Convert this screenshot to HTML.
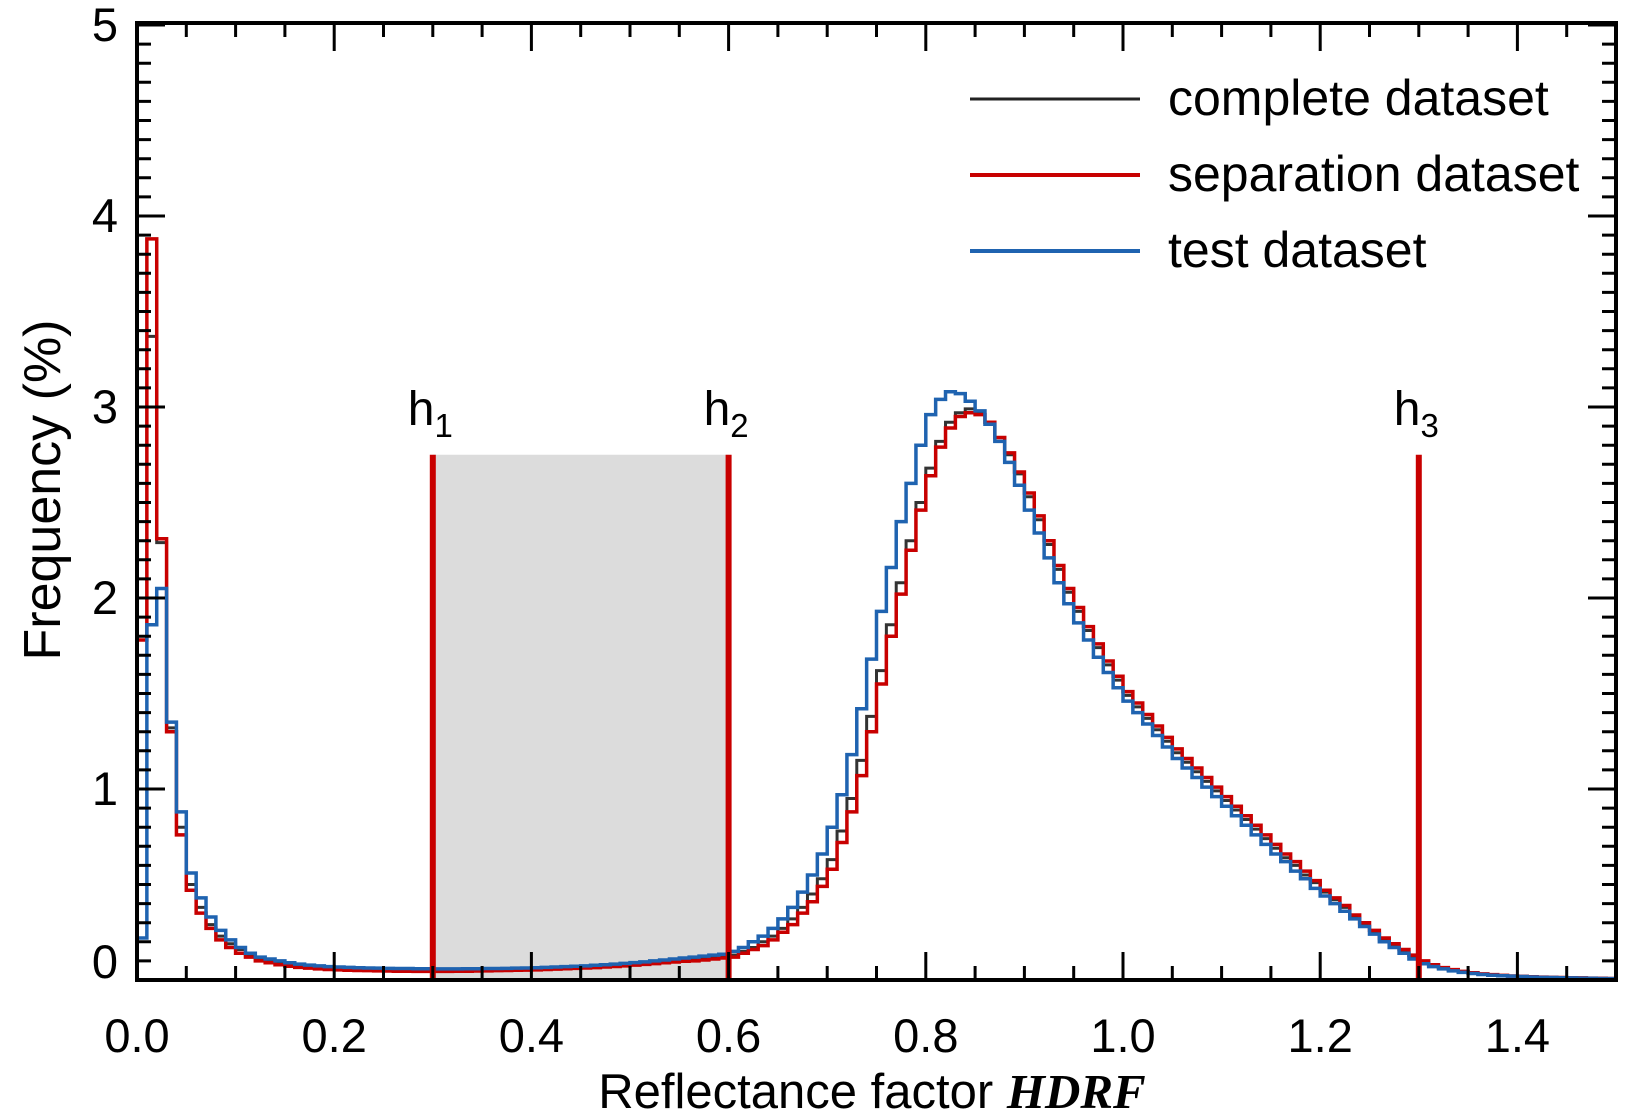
<!DOCTYPE html>
<html><head><meta charset="utf-8">
<style>
html,body{margin:0;padding:0;background:#fff;}
svg{display:block;font-family:"Liberation Sans",sans-serif;}
</style></head>
<body>
<svg id="chart" width="1625" height="1119" viewBox="0 0 1625 1119" xmlns="http://www.w3.org/2000/svg">
  <rect x="0" y="0" width="1625" height="1119" fill="#fff"/>
  <g id="shade"></g>
  <g id="series"></g>
  <g id="thresholds"></g>
  <g id="axes"></g>
  <g>
    <line x1="970" y1="99" x2="1140" y2="99" stroke="#222" stroke-width="3"/>
    <text x="1168" y="115" font-size="50">complete dataset</text>
    <line x1="970" y1="175" x2="1140" y2="175" stroke="#c80000" stroke-width="4"/>
    <text x="1168" y="191" font-size="50">separation dataset</text>
    <line x1="970" y1="251" x2="1140" y2="251" stroke="#1f63b0" stroke-width="4"/>
    <text x="1168" y="267" font-size="50">test dataset</text>
  </g>
  <text transform="translate(60,490) rotate(-90)" text-anchor="middle" font-size="52">Frequency (%)</text>
  <text x="872" y="1108" text-anchor="middle" font-size="49">Reflectance factor <tspan font-family="'Liberation Serif',serif" font-weight="bold" font-style="italic">HDRF</tspan></text>
</svg>
<script>
const categoriesStart = 0.00; // first bin left edge
const binWidth = 0.01;
const complete = [1.78,3.37,2.29,1.32,0.80,0.50,0.38,0.29,0.23,0.19,0.16,0.13,0.11,0.10,0.09,0.08,0.075,0.07,0.065,0.06,
0.06,0.058,0.056,0.055,0.054,0.053,0.052,0.052,0.051,0.051,0.05,0.05,0.051,0.051,0.052,0.053,0.054,0.055,0.056,0.057,
0.058,0.06,0.062,0.064,0.066,0.068,0.07,0.073,0.076,0.08,0.084,0.088,0.092,0.097,0.10,0.105,0.11,0.115,0.12,0.125,
0.13,0.15,0.17,0.20,0.23,0.27,0.32,0.38,0.45,0.53,0.63,0.78,0.95,1.15,1.38,1.62,1.86,2.08,2.30,2.50,
2.68,2.82,2.92,2.97,2.99,2.97,2.92,2.84,2.75,2.65,2.53,2.41,2.28,2.15,2.03,1.93,1.83,1.74,1.65,1.57,
1.49,1.43,1.37,1.31,1.25,1.19,1.14,1.09,1.04,0.99,0.94,0.89,0.84,0.79,0.74,0.69,0.64,0.60,0.55,0.51,
0.46,0.42,0.38,0.33,0.29,0.25,0.21,0.18,0.15,0.12,0.09,0.075,0.062,0.052,0.044,0.037,0.031,0.027,0.024,0.021,
0.019,0.017,0.015,0.014,0.013,0.012,0.011,0.01,0.009,0.008];
const separation = [1.78,3.88,2.31,1.30,0.76,0.47,0.35,0.27,0.21,0.17,0.14,0.12,0.10,0.09,0.08,0.072,0.066,0.062,0.058,0.055,
0.053,0.051,0.05,0.049,0.048,0.047,0.046,0.046,0.045,0.045,0.045,0.045,0.046,0.046,0.047,0.048,0.049,0.05,0.051,0.052,
0.053,0.055,0.057,0.059,0.061,0.063,0.065,0.068,0.071,0.074,0.078,0.082,0.086,0.09,0.094,0.098,0.10,0.105,0.11,0.115,
0.12,0.14,0.16,0.18,0.21,0.25,0.29,0.35,0.41,0.49,0.58,0.72,0.88,1.07,1.30,1.55,1.80,2.02,2.25,2.46,
2.64,2.79,2.89,2.95,2.97,2.96,2.92,2.84,2.76,2.66,2.55,2.43,2.30,2.17,2.05,1.95,1.85,1.76,1.67,1.59,
1.51,1.45,1.39,1.33,1.27,1.21,1.16,1.11,1.06,1.01,0.96,0.91,0.86,0.81,0.76,0.71,0.66,0.62,0.57,0.52,
0.47,0.43,0.39,0.34,0.30,0.26,0.22,0.19,0.16,0.13,0.10,0.08,0.065,0.054,0.045,0.038,0.032,0.028,0.024,0.021,
0.019,0.017,0.015,0.014,0.013,0.012,0.011,0.01,0.009,0.008];
const test = [0.22,1.86,2.05,1.35,0.88,0.56,0.43,0.33,0.26,0.21,0.17,0.14,0.12,0.11,0.10,0.09,0.083,0.078,0.074,0.07,
0.068,0.066,0.064,0.063,0.062,0.061,0.06,0.06,0.059,0.059,0.058,0.058,0.058,0.059,0.059,0.06,0.06,0.061,0.062,0.063,
0.064,0.066,0.068,0.07,0.072,0.074,0.077,0.08,0.083,0.087,0.091,0.095,0.10,0.105,0.11,0.115,0.12,0.125,0.13,0.135,
0.15,0.17,0.20,0.23,0.27,0.32,0.38,0.46,0.55,0.66,0.80,0.97,1.18,1.42,1.68,1.93,2.16,2.40,2.60,2.80,
2.96,3.04,3.08,3.07,3.03,2.98,2.91,2.82,2.71,2.59,2.46,2.34,2.21,2.08,1.97,1.87,1.78,1.69,1.61,1.53,
1.46,1.40,1.34,1.28,1.22,1.16,1.11,1.06,1.01,0.96,0.91,0.86,0.81,0.76,0.71,0.66,0.62,0.57,0.53,0.48,
0.44,0.40,0.36,0.32,0.28,0.24,0.20,0.17,0.14,0.11,0.085,0.07,0.058,0.048,0.04,0.034,0.029,0.025,0.022,0.02,
0.018,0.016,0.014,0.013,0.012,0.011,0.01,0.009,0.008,0.007];
const thresholdValues = [0.30, 0.60, 1.30];
const thresholdLabels = ["1", "2", "3"];
const shadeRange = [0.30, 0.60];
const shadeTop = 2.75;
const xTickValues = [0.0,0.2,0.4,0.6,0.8,1.0,1.2,1.4];
const xTickLabels = ["0.0","0.2","0.4","0.6","0.8","1.0","1.2","1.4"];
const yTickValues = [0,1,2,3,4,5];
const yTickLabels = ["0","1","2","3","4","5"];

const X0=137, X1=1616, Y0=980, Y1=25;
const xMin=0, xMax=1.5, yMin=0, yMax=5;
function xs(v){return X0+(v-xMin)/(xMax-xMin)*(X1-X0);}
function ys(v){return Y0-(v-yMin)/(yMax-yMin)*(Y0-Y1);}
const NS="http://www.w3.org/2000/svg";
function mk(tag,parent,attrs){const e=document.createElementNS(NS,tag);for(const k in attrs)e.setAttribute(k,attrs[k]);parent.appendChild(e);return e;}

const gShade=document.getElementById('shade');
const sh=mk('rect',gShade,{x:xs(shadeRange[0]),y:ys(shadeTop),width:xs(shadeRange[1])-xs(shadeRange[0]),height:ys(0)-ys(shadeTop),fill:'#dcdcdc'});



const gS=document.getElementById('series');
function stepPath(vals){
  let d='M'+xs(categoriesStart)+','+ys(vals[0]);
  for(let i=0;i<vals.length;i++){
    const xl=xs(categoriesStart+i*binWidth), xr=xs(categoriesStart+(i+1)*binWidth);
    d+=' L'+xl+','+ys(vals[i])+' L'+xr+','+ys(vals[i]);
  }
  return d;
}
const pc=mk('path',gS,{d:stepPath(complete),fill:'none',stroke:'#333',"stroke-width":3});


const pr=mk('path',gS,{d:stepPath(separation),fill:'none',stroke:'#c80000',"stroke-width":3.5});


const pb=mk('path',gS,{d:stepPath(test),fill:'none',stroke:'#1f63b0',"stroke-width":3.5});



const gT=document.getElementById('thresholds');
thresholdValues.forEach((v,i)=>{
  const l=mk('line',gT,{x1:xs(v),x2:xs(v),y1:ys(shadeTop),y2:ys(0),stroke:'#c80000',"stroke-width":6});
  
  
  const t=mk('text',gT,{x:xs(v)-25,y:425,"font-size":48});
  
  
  t.appendChild(document.createTextNode('h'));
  const s=mk('tspan',t,{"font-size":33,dy:12});
  s.textContent=thresholdLabels[i];
});

const gA=document.getElementById('axes');
const fr=mk('rect',gA,{x:X0,y:Y1-2,width:X1-X0,height:Y0-Y1+2,fill:'none',stroke:'#000',"stroke-width":4});


let d='';
for(let k=0;k<=30;k++){const v=k*0.05;const x=xs(v);const L=(k%4===0)?28:14;
  d+=`M${x},${Y0} v${-L} M${x},${Y1-2} v${L} `;}
for(let k=0;k<=50;k++){const v=k*0.1;const y=ys(v);const L=(k%10===0)?28:14;
  d+=`M${X0},${y} h${L} M${X1},${y} h${-L} `;}
const tk=mk('path',gA,{d:d,stroke:'#000',"stroke-width":3,fill:'none'});


xTickValues.forEach((v,i)=>{
  const t=mk('text',gA,{x:xs(v),y:1052,"text-anchor":"middle","font-size":47});
  
  
  t.textContent=xTickLabels[i];
});
yTickValues.forEach((v,i)=>{
  const yy = v===0 ? ys(v)-2 : ys(v)+16;
  const t=mk('text',gA,{x:118,y:yy,"text-anchor":"end","font-size":47});
  
  
  t.textContent=yTickLabels[i];
});
</script>
</body></html>
